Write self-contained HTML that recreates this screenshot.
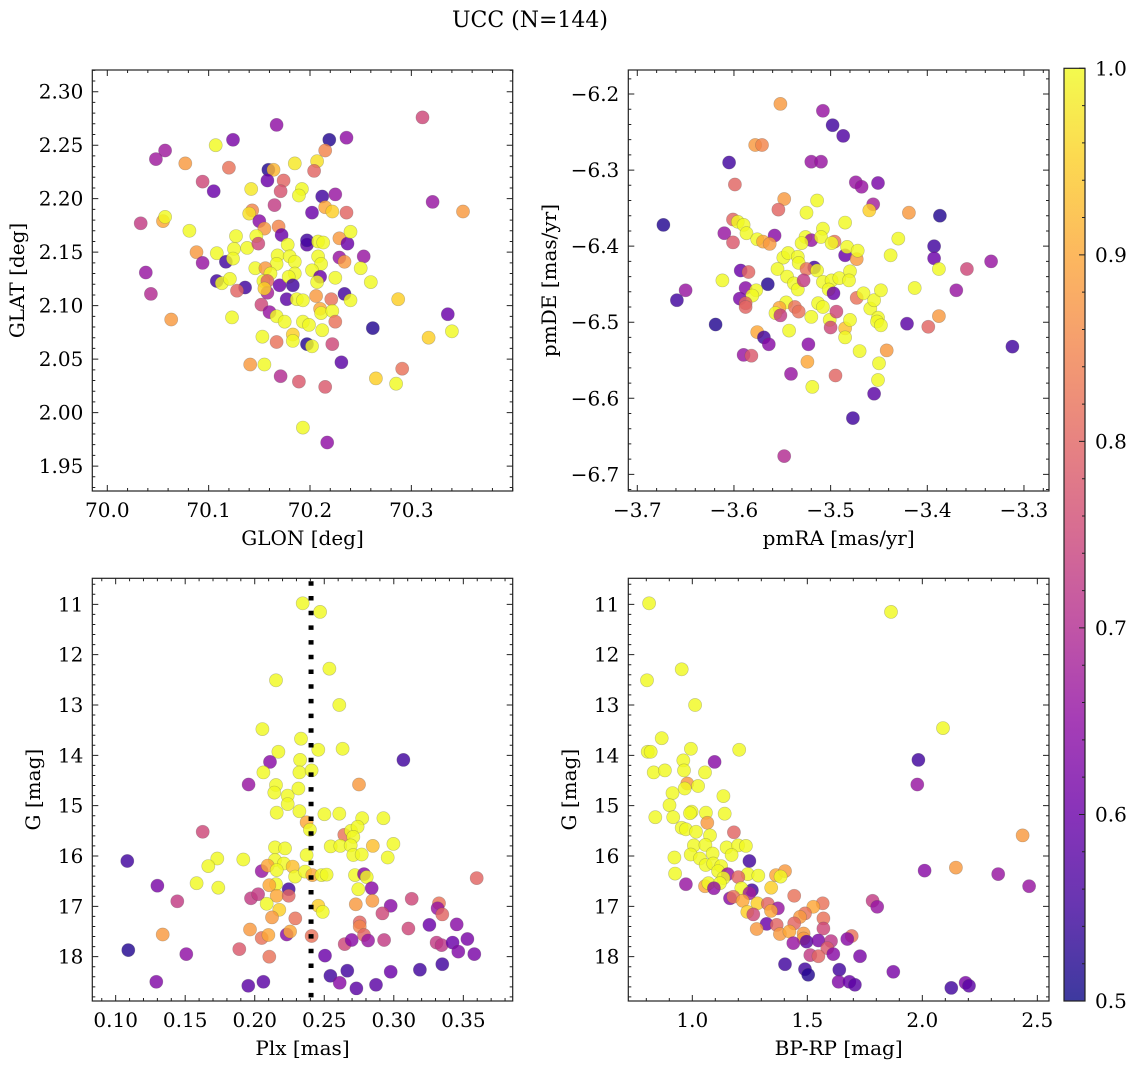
<!DOCTYPE html>
<html><head><meta charset="utf-8">
<style>
html,body{margin:0;padding:0;background:#fff;}
svg{display:block;font-family:"DejaVu Serif","Liberation Serif",serif;}
</style></head>
<body>
<svg id="fig" width="1136" height="1068" viewBox="0 0 1136 1068" xmlns="http://www.w3.org/2000/svg">
<text x="530" y="27" font-size="22" text-anchor="middle">UCC (N=144)</text>
</svg>
<script>
// ---------- Panel 1: GLON vs GLAT ----------
const glon = [70.311,70.167,70.219,70.236,70.124,70.107,70.057,70.048,70.215,70.077,70.120,70.159,70.164,70.185,70.207,70.204,70.094,70.158,70.174,70.142,70.105,70.171,70.192,70.189,70.212,70.225,70.321,70.165,70.033,70.055,70.057,70.081,70.143,70.140,70.202,70.215,70.222,70.236,70.351,70.150,70.155,70.169,70.172,70.127,70.147,70.197,70.197,70.178,70.208,70.213,70.229,70.237,70.240,70.088,70.108,70.125,70.138,70.149,70.168,70.180,70.208,70.253,70.094,70.117,70.124,70.167,70.185,70.229,70.234,70.211,70.038,70.146,70.156,70.161,70.185,70.202,70.210,70.250,70.108,70.113,70.121,70.136,70.128,70.154,70.158,70.170,70.179,70.183,70.207,70.225,70.260,70.043,70.158,70.155,70.234,70.177,70.187,70.193,70.206,70.221,70.240,70.287,70.152,70.160,70.210,70.211,70.222,70.336,70.063,70.123,70.167,70.175,70.193,70.199,70.225,70.212,70.262,70.317,70.340,70.153,70.167,70.183,70.183,70.197,70.202,70.222,70.141,70.155,70.231,70.171,70.189,70.215,70.265,70.285,70.291,70.193,70.217];
const glat = [2.276,2.269,2.255,2.257,2.255,2.250,2.245,2.237,2.245,2.233,2.229,2.227,2.227,2.233,2.235,2.226,2.216,2.217,2.217,2.209,2.207,2.207,2.209,2.203,2.202,2.204,2.197,2.194,2.177,2.179,2.183,2.170,2.189,2.186,2.187,2.192,2.188,2.187,2.188,2.179,2.172,2.174,2.166,2.165,2.165,2.157,2.161,2.157,2.160,2.159,2.163,2.158,2.169,2.150,2.149,2.153,2.154,2.158,2.147,2.146,2.146,2.146,2.140,2.141,2.144,2.139,2.141,2.145,2.141,2.139,2.131,2.135,2.135,2.130,2.130,2.133,2.127,2.135,2.123,2.121,2.125,2.117,2.114,2.123,2.123,2.119,2.127,2.119,2.122,2.126,2.122,2.111,2.112,2.116,2.111,2.106,2.106,2.105,2.109,2.106,2.105,2.106,2.101,2.094,2.097,2.093,2.095,2.092,2.087,2.089,2.090,2.085,2.085,2.082,2.085,2.077,2.079,2.070,2.076,2.071,2.066,2.073,2.067,2.064,2.062,2.064,2.045,2.045,2.047,2.034,2.029,2.024,2.032,2.027,2.041,1.986,1.972];
const prob1 = [0.75,0.65,0.52,0.65,0.62,1,0.67,0.67,0.85,0.88,0.82,0.52,0.92,0.98,0.97,0.8,0.75,0.6,0.8,0.98,0.6,0.77,1,1,0.55,0.66,0.66,0.73,0.73,0.9,1,1,0.85,0.97,0.6,0.9,0.95,0.8,0.88,0.64,0.88,0.85,0.6,1,1,0.58,0.55,1,1,1,0.88,0.6,1,0.88,1,1,1,0.75,1,1,1,0.66,0.66,0.55,1,1,1,0.66,0.88,1,0.66,1,0.88,1,1,1,0.6,1,0.55,1,1,0.55,0.8,1,0.8,0.6,1,0.55,1,1,1,0.7,0.68,0.95,0.55,0.58,1,1,0.88,0.82,1,0.95,0.75,0.66,0.9,1,1,0.6,0.88,1,1,1,1,1,0.82,1,0.52,0.95,1,1,0.82,0.95,1,0.52,1,0.75,0.88,1,0.58,0.7,0.78,0.78,0.95,1,0.82,1,0.65];
const p1xTicks = [70.0,70.1,70.2,70.3];
const p1xTickLabels = ["70.0","70.1","70.2","70.3"];
const p1yTicks = [1.95,2.00,2.05,2.10,2.15,2.20,2.25,2.30];
const p1yTickLabels = ["1.95","2.00","2.05","2.10","2.15","2.20","2.25","2.30"];

// ---------- Panel 2: pmRA vs pmDE ----------
const pmra = [-3.552,-3.508,-3.498,-3.487,-3.578,-3.571,-3.605,-3.520,-3.510,-3.599,-3.474,-3.468,-3.451,-3.548,-3.514,-3.554,-3.525,-3.456,-3.460,-3.419,-3.387,-3.673,-3.601,-3.596,-3.590,-3.587,-3.610,-3.601,-3.558,-3.576,-3.570,-3.563,-3.526,-3.520,-3.530,-3.508,-3.510,-3.496,-3.499,-3.485,-3.485,-3.483,-3.473,-3.472,-3.430,-3.393,-3.438,-3.393,-3.334,-3.359,-3.388,-3.549,-3.544,-3.534,-3.533,-3.517,-3.525,-3.514,-3.555,-3.593,-3.585,-3.612,-3.565,-3.545,-3.538,-3.534,-3.528,-3.508,-3.499,-3.491,-3.480,-3.481,-3.502,-3.497,-3.588,-3.577,-3.581,-3.650,-3.659,-3.594,-3.588,-3.588,-3.546,-3.553,-3.557,-3.552,-3.537,-3.533,-3.513,-3.508,-3.520,-3.501,-3.494,-3.500,-3.485,-3.485,-3.480,-3.473,-3.466,-3.459,-3.455,-3.448,-3.451,-3.452,-3.448,-3.413,-3.388,-3.399,-3.421,-3.370,-3.312,-3.619,-3.576,-3.569,-3.564,-3.590,-3.582,-3.543,-3.523,-3.524,-3.470,-3.442,-3.450,-3.541,-3.495,-3.519,-3.451,-3.455,-3.477,-3.548];
const pmde = [-6.213,-6.222,-6.241,-6.255,-6.267,-6.267,-6.290,-6.289,-6.289,-6.319,-6.316,-6.322,-6.317,-6.338,-6.340,-6.352,-6.356,-6.345,-6.353,-6.356,-6.360,-6.372,-6.365,-6.368,-6.372,-6.383,-6.383,-6.395,-6.386,-6.391,-6.394,-6.397,-6.388,-6.392,-6.396,-6.377,-6.388,-6.394,-6.396,-6.369,-6.412,-6.401,-6.417,-6.406,-6.390,-6.400,-6.412,-6.416,-6.420,-6.430,-6.430,-6.415,-6.409,-6.414,-6.422,-6.428,-6.430,-6.432,-6.430,-6.432,-6.434,-6.445,-6.450,-6.440,-6.449,-6.457,-6.445,-6.447,-6.445,-6.442,-6.433,-6.445,-6.457,-6.462,-6.455,-6.458,-6.465,-6.458,-6.471,-6.469,-6.475,-6.480,-6.474,-6.481,-6.488,-6.491,-6.480,-6.486,-6.475,-6.480,-6.493,-6.497,-6.486,-6.507,-6.508,-6.520,-6.497,-6.468,-6.462,-6.482,-6.471,-6.458,-6.494,-6.499,-6.504,-6.455,-6.492,-6.506,-6.502,-6.458,-6.532,-6.503,-6.513,-6.520,-6.529,-6.543,-6.544,-6.511,-6.529,-6.552,-6.538,-6.537,-6.554,-6.568,-6.570,-6.585,-6.576,-6.594,-6.626,-6.676];
const prob2 = [0.88,0.66,0.55,0.57,0.88,0.85,0.55,0.66,0.66,0.8,0.66,0.66,0.62,0.88,1,0.8,1,0.68,0.95,0.88,0.52,0.52,0.8,1,1,1,0.66,0.78,0.64,1,0.9,0.88,1,0.66,1,1,1,0.82,1,1,0.6,1,0.88,1,1,0.55,1,0.6,0.66,0.75,1,1,1,1,1,0.55,0.82,1,1,0.6,0.8,1,0.52,1,1,1,0.73,1,1,1,1,1,1,0.6,0.64,1,1,0.66,0.55,0.62,0.8,0.8,1,0.9,1,0.73,0.82,0.82,1,1,1,1,0.75,0.75,0.93,1,1,0.82,1,1,1,1,1,1,1,1,0.88,0.8,0.58,0.66,0.55,0.52,0.9,0.55,0.64,0.66,0.78,1,0.64,0.9,1,0.88,1,0.66,0.8,1,1,0.58,0.55,0.7];
const p2xTicks = [-3.7,-3.6,-3.5,-3.4,-3.3];
const p2xTickLabels = ["\u22123.7","\u22123.6","\u22123.5","\u22123.4","\u22123.3"];
const p2yTicks = [-6.7,-6.6,-6.5,-6.4,-6.3,-6.2];
const p2yTickLabels = ["\u22126.7","\u22126.6","\u22126.5","\u22126.4","\u22126.3","\u22126.2"];

// ---------- Panel 3: Plx vs G ----------
const plx = [0.2345,0.247,0.2537,0.2153,0.2608,0.2055,0.2333,0.2632,0.217,0.2457,0.3069,0.211,0.2326,0.2321,0.2062,0.2409,0.1956,0.2153,0.2141,0.2237,0.2314,0.2237,0.275,0.2321,0.2158,0.2501,0.2608,0.2925,0.2773,0.2373,0.2397,0.1626,0.2644,0.2692,0.274,0.2709,0.2546,0.2146,0.2218,0.2615,0.269,0.2849,0.2997,0.2373,0.2709,0.2769,0.2956,0.1084,0.1731,0.1918,0.1666,0.2146,0.221,0.205,0.2093,0.2158,0.2273,0.229,0.2362,0.2414,0.2481,0.2517,0.2721,0.2786,0.2805,0.2841,0.2745,0.3596,0.1582,0.1738,0.130,0.2153,0.2105,0.2244,0.2158,0.2244,0.1973,0.2024,0.1443,0.2086,0.2177,0.2457,0.2489,0.2727,0.2846,0.2978,0.2918,0.3129,0.3325,0.3315,0.3349,0.2124,0.2292,0.2755,0.2755,0.3256,0.3452,0.3105,0.1338,0.1966,0.205,0.2098,0.223,0.2254,0.2409,0.2786,0.2815,0.293,0.2647,0.2697,0.3308,0.3344,0.3423,0.3529,0.1091,0.1889,0.1508,0.2105,0.2505,0.3464,0.3579,0.3349,0.3188,0.2666,0.2544,0.2978,0.1292,0.2062,0.1954,0.2611,0.2731,0.2872];
const gmag3 = [10.98,11.15,12.28,12.51,13.00,13.48,13.67,13.87,13.93,13.89,14.09,14.13,14.09,14.34,14.34,14.30,14.58,14.59,14.74,14.80,14.66,14.97,14.58,15.11,15.14,15.17,15.16,15.25,15.25,15.33,15.48,15.52,15.58,15.50,15.42,15.62,15.81,15.83,15.85,15.80,15.79,15.80,15.76,15.98,15.98,15.97,16.03,16.10,16.05,16.07,16.20,16.08,16.15,16.30,16.19,16.28,16.21,16.41,16.31,16.38,16.38,16.37,16.38,16.36,16.42,16.64,16.66,16.44,16.54,16.63,16.59,16.56,16.58,16.66,16.79,16.79,16.84,16.76,16.90,16.95,17.07,16.99,17.11,16.96,16.89,16.99,17.14,16.85,16.94,17.04,17.16,17.22,17.24,17.32,17.40,17.37,17.36,17.44,17.56,17.46,17.63,17.57,17.56,17.50,17.59,17.57,17.68,17.67,17.75,17.67,17.72,17.77,17.72,17.65,17.87,17.85,17.95,18.00,17.98,17.90,17.95,18.15,18.26,18.28,18.38,18.30,18.50,18.50,18.58,18.52,18.63,18.56];
const prob3 = [1,1,1,1,1,1,1,1,1,1,0.55,0.64,1,1,1,1,0.66,1,1,1,1,1,0.88,1,1,1,1,1,1,0.9,1,0.75,0.82,1,1,1,1,1,1,1,1,0.93,1,1,1,1,1,0.55,1,1,1,1,1,0.66,0.9,1,0.93,1,1,0.9,1,1,1,0.64,1,0.64,1,0.8,1,1,0.62,1,0.9,0.55,0.9,0.8,0.73,0.73,0.73,1,0.95,0.95,1,0.88,0.88,0.64,0.75,0.75,0.82,0.66,0.8,0.88,0.82,0.8,0.85,0.6,0.64,0.75,0.88,0.88,0.82,0.9,0.64,0.9,0.82,0.8,0.66,0.73,0.75,0.64,0.73,0.72,0.6,0.62,0.52,0.78,0.65,0.82,0.6,0.63,0.62,0.55,0.55,0.55,0.55,0.6,0.63,0.58,0.58,0.64,0.58,0.58];
const plxMedian = [0.2405];
const p3xTicks = [0.10,0.15,0.20,0.25,0.30,0.35];
const p3xTickLabels = ["0.10","0.15","0.20","0.25","0.30","0.35"];
const p3yTicks = [11,12,13,14,15,16,17,18];
const p3yTickLabels = ["11","12","13","14","15","16","17","18"];

// ---------- Panel 4: BP-RP vs G ----------
const bprp = [0.812,1.864,0.954,0.803,1.012,2.090,0.867,0.806,0.819,0.994,1.204,0.961,1.097,1.983,0.832,0.881,0.964,1.055,1.978,0.978,0.967,1.025,0.914,1.135,0.901,0.839,0.917,0.997,0.990,1.059,1.141,1.065,0.954,0.972,1.016,1.181,1.077,2.436,1.007,1.057,1.149,1.199,1.233,0.993,0.922,1.088,1.171,1.033,1.058,1.091,1.248,1.125,2.146,2.010,2.330,1.112,1.154,0.925,1.135,1.241,1.287,1.200,1.364,1.403,1.384,0.972,1.055,1.070,1.120,1.094,1.259,2.464,1.343,1.213,1.248,1.443,1.164,1.178,1.219,1.784,1.804,1.283,1.328,1.372,1.342,1.567,1.526,1.239,1.265,1.490,1.468,1.570,1.323,1.367,1.280,1.570,1.443,1.381,1.422,1.484,1.484,1.693,1.674,1.439,1.497,1.548,1.603,1.587,1.513,1.548,1.613,1.729,1.403,1.490,1.504,1.639,1.874,1.636,1.683,1.707,2.126,2.188,2.203];
const gmag4 = [10.98,11.15,12.29,12.51,13.00,13.46,13.66,13.93,13.93,13.87,13.89,14.10,14.13,14.09,14.34,14.30,14.30,14.34,14.58,14.56,14.66,14.61,14.75,14.81,14.99,15.23,15.23,15.12,15.15,15.14,15.16,15.34,15.44,15.47,15.52,15.53,15.59,15.59,15.79,15.78,15.83,15.79,15.80,15.97,16.03,15.95,15.98,16.05,16.18,16.15,16.10,16.20,16.23,16.29,16.36,16.30,16.36,16.35,16.44,16.36,16.39,16.42,16.38,16.30,16.41,16.56,16.60,16.54,16.54,16.64,16.68,16.60,16.63,16.64,16.74,16.79,16.84,16.81,16.89,16.89,17.01,16.94,16.95,17.04,17.09,16.94,17.01,17.11,17.16,17.14,17.21,17.24,17.35,17.37,17.45,17.44,17.34,17.55,17.50,17.54,17.64,17.59,17.65,17.73,17.70,17.68,17.69,17.83,17.97,17.99,17.95,17.99,18.15,18.25,18.36,18.26,18.30,18.50,18.50,18.56,18.62,18.52,18.58];
const prob4 = [1,1,1,1,1,1,1,1,1,1,1,1,0.64,0.55,1,1,1,1,0.66,0.88,1,1,1,1,1,1,1,1,1,1,1,0.88,1,1,1,0.8,1,0.88,1,1,1,1,1,1,1,1,1,1,1,1,0.55,1,0.88,0.64,0.66,1,0.66,1,1,1,1,0.8,0.9,0.88,1,0.66,0.9,1,1,0.65,0.55,0.66,0.95,1,0.68,0.82,0.64,0.82,0.9,0.73,0.66,0.95,0.8,0.66,0.9,0.82,0.9,0.95,0.75,0.82,0.88,0.82,0.6,0.8,0.88,0.75,0.8,0.88,0.9,0.88,0.88,0.82,0.64,0.66,0.58,0.62,0.72,0.78,0.73,0.8,0.64,0.62,0.55,0.55,0.52,0.55,0.62,0.63,0.6,0.58,0.55,0.62,0.58];
const p4xTicks = [1.0,1.5,2.0,2.5];
const p4xTickLabels = ["1.0","1.5","2.0","2.5"];
const p4yTicks = [11,12,13,14,15,16,17,18];
const p4yTickLabels = ["11","12","13","14","15","16","17","18"];

// ---------- Colorbar ----------
const cbarTicks = [0.5,0.6,0.7,0.8,0.9,1.0];
const cbarTickLabels = ["0.5","0.6","0.7","0.8","0.9","1.0"];
const cbarRange = [0.5,1.0];

const FS = 20;
const NS = "http://www.w3.org/2000/svg";
const fig = document.getElementById('fig');
const plasmaStops = [[13,8,135],[65,4,157],[106,0,168],[143,13,164],[177,42,144],[204,71,120],[225,100,98],[242,132,75],[252,166,54],[252,206,37],[240,249,33]];
function plasma(t){
  t = Math.max(0, Math.min(1, t));
  const f = t*10, i = Math.min(9, Math.floor(f)), r = f - i;
  const a = plasmaStops[i], b = plasmaStops[i+1];
  return 'rgb(' + [0,1,2].map(k => Math.round(a[k] + (b[k]-a[k])*r)).join(',') + ')';
}
function mk(tag, attrs, parent){
  const e = document.createElementNS(NS, tag);
  for (const k in attrs) e.setAttribute(k, attrs[k]);
  (parent || fig).appendChild(e);
  return e;
}

function panel(cfg){
  const {name, box, xr, yr, xs, ys, ps, xt, xtl, yt, ytl, xminor, yminor, xlabel, ylabel, ylabelX, invertY} = cfg;
  const g = mk('g', {});
  
  
  const X = v => box.x0 + (v - xr[0]) / (xr[1] - xr[0]) * (box.x1 - box.x0);
  const Y = invertY ? (v => box.y0 + (v - yr[0]) / (yr[1] - yr[0]) * (box.y1 - box.y0))
                    : (v => box.y1 - (v - yr[0]) / (yr[1] - yr[0]) * (box.y1 - box.y0));
  const cid = name + '-clip';
  const defs = mk('defs', {}, g);
  const cp = mk('clipPath', {id: cid}, defs);
  mk('rect', {x: box.x0, y: box.y0, width: box.x1 - box.x0, height: box.y1 - box.y0}, cp);
  const pts = mk('g', {'clip-path': 'url(#' + cid + ')'}, g);
  
  
  for (let i = 0; i < xs.length; i++){
    const c = mk('circle', {cx: X(xs[i]).toFixed(1), cy: Y(ys[i]).toFixed(1), r: 6.6,
      fill: plasma((ps[i] - cbarRange[0]) / (cbarRange[1] - cbarRange[0])), 'fill-opacity': 0.82,
      stroke: '#555', 'stroke-opacity': 0.35, 'stroke-width': 0.6}, pts);
    
    
  }
  if (cfg.vline){
    const l = mk('line', {x1: X(cfg.vline[0]), x2: X(cfg.vline[0]), y1: box.y0 + 3, y2: box.y1, stroke: '#000', 'stroke-width': 5, 'stroke-dasharray': '4.5 10.2'}, pts);
    
    
  }
  mk('rect', {x: box.x0, y: box.y0, width: box.x1 - box.x0, height: box.y1 - box.y0, fill: 'none', stroke: '#222', 'stroke-width': 1.2}, g);
  const tk = [];
  for (let v = Math.ceil(xr[0] / xminor - 1e-6) * xminor; v <= xr[1]; v += xminor){
    const x = X(v); tk.push(`M${x},${box.y1}v-3M${x},${box.y0}v3`);
  }
  for (let v = Math.ceil(Math.min(yr[0], yr[1]) / yminor - 1e-6) * yminor; v <= Math.max(yr[0], yr[1]); v += yminor){
    const y = Y(v); tk.push(`M${box.x0},${y}h3M${box.x1},${y}h-3`);
  }
  xt.forEach(v => { const x = X(v); tk.push(`M${x},${box.y1}v-6M${x},${box.y0}v6`); });
  yt.forEach(v => { const y = Y(v); tk.push(`M${box.x0},${y}h6M${box.x1},${y}h-6`); });
  mk('path', {d: tk.join(''), stroke: '#222', 'stroke-width': 1, fill: 'none'}, g);
  xt.forEach((v, i) => {
    const t = mk('text', {x: X(v), y: box.y1 + 26, 'font-size': FS, 'text-anchor': 'middle'}, g);
    t.textContent = xtl[i];
    
    
  });
  yt.forEach((v, i) => {
    const t = mk('text', {x: box.x0 - 9, y: Y(v) + 7, 'font-size': FS, 'text-anchor': 'end'}, g);
    t.textContent = ytl[i];
    
    
  });
  const xl = mk('text', {x: (box.x0 + box.x1) / 2, y: box.y1 + 54, 'font-size': FS, 'text-anchor': 'middle'}, g);
  xl.textContent = xlabel;
  
  
  const yc = (box.y0 + box.y1) / 2;
  const yl = mk('text', {x: ylabelX, y: yc, 'font-size': FS, 'text-anchor': 'middle', transform: `rotate(-90 ${ylabelX} ${yc})`}, g);
  yl.textContent = ylabel;
  
  
}

panel({name: 'glon-glat-panel', box: {x0: 92.3, x1: 512.7, y0: 70, y1: 491}, xr: [69.9852, 70.4], yr: [1.9267, 2.3203],
  xs: glon, ys: glat, ps: prob1, xt: p1xTicks, xtl: p1xTickLabels, yt: p1yTicks, ytl: p1yTickLabels,
  xminor: 0.02, yminor: 0.01, xlabel: 'GLON [deg]', ylabel: 'GLAT [deg]', ylabelX: 24});
panel({name: 'pm-panel', box: {x0: 628.3, x1: 1049, y0: 70, y1: 491}, xr: [-3.7093, -3.2741], yr: [-6.7219, -6.1684],
  xs: pmra, ys: pmde, ps: prob2, xt: p2xTicks, xtl: p2xTickLabels, yt: p2yTicks, ytl: p2yTickLabels,
  xminor: 0.02, yminor: 0.02, xlabel: 'pmRA [mas/yr]', ylabel: 'pmDE [mas/yr]', ylabelX: 556});
panel({name: 'plx-g-panel', box: {x0: 92.3, x1: 512.7, y0: 578.3, y1: 1001}, xr: [0.0832, 0.3855], yr: [10.483, 18.881], invertY: true,
  xs: plx, ys: gmag3, ps: prob3, xt: p3xTicks, xtl: p3xTickLabels, yt: p3yTicks, ytl: p3yTickLabels,
  xminor: 0.01, yminor: 0.2, xlabel: 'Plx [mas]', ylabel: 'G [mag]', ylabelX: 40, vline: plxMedian});
panel({name: 'cmd-panel', box: {x0: 628.3, x1: 1049, y0: 578.3, y1: 1001}, xr: [0.7217, 2.5507], yr: [10.483, 18.881], invertY: true,
  xs: bprp, ys: gmag4, ps: prob4, xt: p4xTicks, xtl: p4xTickLabels, yt: p4yTicks, ytl: p4yTickLabels,
  xminor: 0.1, yminor: 0.2, xlabel: 'BP-RP [mag]', ylabel: 'G [mag]', ylabelX: 576});

(function(){
  const cb = {x0: 1064, x1: 1085, y0: 68.3, y1: 1001};
  const g = mk('g', {});
  
  
  const defs = mk('defs', {}, g);
  const lg = mk('linearGradient', {id: 'cbgrad', x1: 0, y1: 1, x2: 0, y2: 0}, defs);
  for (let i = 0; i <= 10; i++) mk('stop', {offset: i / 10, 'stop-color': plasma(i / 10)}, lg);
  mk('rect', {x: cb.x0, y: cb.y0, width: cb.x1 - cb.x0, height: cb.y1 - cb.y0, fill: 'url(#cbgrad)', 'fill-opacity': 0.8}, g);
  mk('rect', {x: cb.x0, y: cb.y0, width: cb.x1 - cb.x0, height: cb.y1 - cb.y0, fill: 'none', stroke: '#222', 'stroke-width': 1.2}, g);
  const Y = v => cb.y1 - (v - cbarRange[0]) / (cbarRange[1] - cbarRange[0]) * (cb.y1 - cb.y0);
  const d = [];
  for (let v = cbarRange[0]; v <= cbarRange[1] + 1e-9; v += 0.02) d.push(`M${cb.x1},${Y(v)}h-3`);
  cbarTicks.forEach(v => d.push(`M${cb.x1},${Y(v)}h-6`));
  mk('path', {d: d.join(''), stroke: '#222', 'stroke-width': 1}, g);
  cbarTicks.forEach((v, i) => {
    const t = mk('text', {x: cb.x1 + 10, y: Y(v) + 7, 'font-size': FS}, g);
    t.textContent = cbarTickLabels[i];
    
    
  });
})();
</script>
</body></html>
